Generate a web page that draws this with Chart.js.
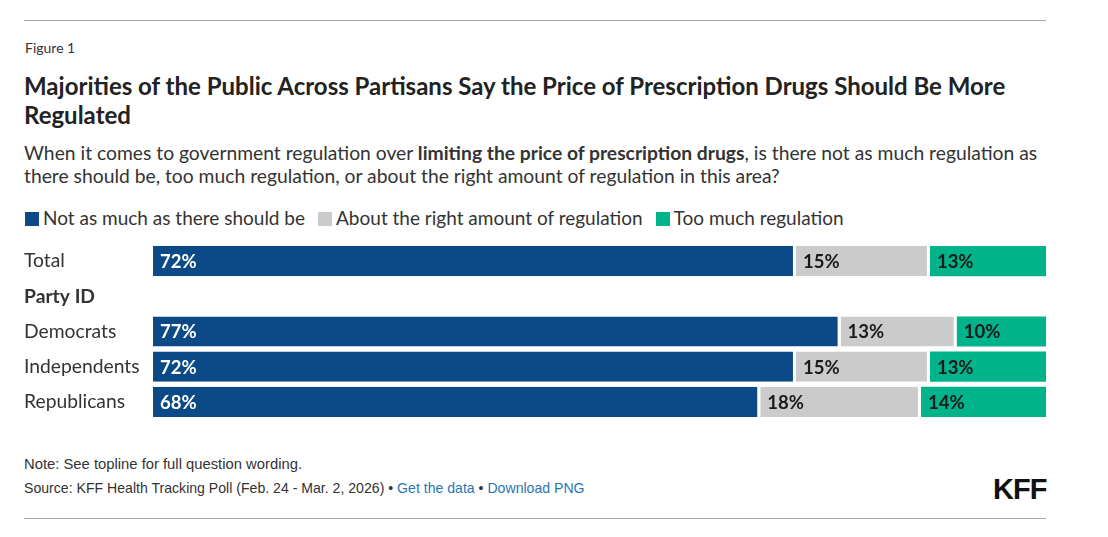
<!DOCTYPE html>
<html>
<head>
<meta charset="utf-8">
<script src="https://cdn.jsdelivr.net/npm/chart.js@4.4.1/dist/chart.umd.min.js"></script>
<style>
  body { margin: 0; background: #fff; font-family: "Lato", sans-serif; color: #333; }
  .regle { position: absolute; left: 24px; width: 1022px; height: 1px; background: #a6a6a6; }
  #figure { position: absolute; left: 25px; top: 39px; font-size: 14px; color: #333; }
  #titre { position: absolute; left: 24px; top: 71px; width: 1000px; font-size: 24px; font-weight: 700; line-height: 29px; color: #222; }
  #sous-titre { position: absolute; left: 24px; top: 141px; width: 1025px; font-size: 19.3px; line-height: 23px; color: #333; }
  #legende { position: absolute; left: 25px; top: 206px; font-size: 19px; color: #333; white-space: nowrap; }
  #legende span.item { margin-right: 13px; }
  #legende span.carre { display: inline-block; width: 14px; height: 14px; margin-right: 4px; vertical-align: -1px; }
  #zone { position: absolute; left: 24px; top: 231.5px; width: 1022px; height: 199px; }
  #note { position: absolute; left: 24px; top: 456px; font-family: "Liberation Sans Narrow", "Liberation Sans", sans-serif; font-size: 14.8px; color: #333; }
  #source { position: absolute; left: 24px; top: 480px; font-family: "Liberation Sans Narrow", "Liberation Sans", sans-serif; font-size: 14.1px; color: #333; }
  #source a { color: #2a75b3; text-decoration: none; }
  #logo { position: absolute; left: 993px; top: 473px; font-family: "Liberation Sans Narrow", sans-serif; font-size: 29px; font-weight: 700; color: #111; letter-spacing: -1px; }
</style>
</head>
<body>
<div class="regle" style="top:20px"></div>
<div id="figure">Figure 1</div>
<div id="titre">Majorities of the Public Across Partisans Say the Price of Prescription Drugs Should Be More Regulated</div>
<div id="sous-titre">When it comes to government regulation over <b>limiting the price of prescription drugs</b>, is there not as much regulation as there should be, too much regulation, or about the right amount of regulation in this area?</div>
<div id="legende"></div>
<div id="zone"><canvas id="graph"></canvas></div>
<div id="note">Note: See topline for full question wording.</div>
<div id="source">Source: KFF Health Tracking Poll (Feb. 24 - Mar. 2, 2026) • <a>Get the data</a> • <a>Download PNG</a></div>
<div id="logo">KFF</div>
<div class="regle" style="top:518px"></div>

<script>
// Donnees
const categories = ["Total", "Party ID", "Democrats", "Independents", "Republicans"];
const pasAssez = [72, null, 77, 72, 68];
const bonneQuantite = [15, null, 13, 15, 18];
const tropRegule = [13, null, 10, 13, 14];

const series = ["Not as much as there should be", "About the right amount of regulation", "Too much regulation"];
const couleurs = ["#0b4a86", "#cbcbcb", "#00b38b"];
const couleursTexte = ["#ffffff", "#1a1a1a", "#1a1a1a"];

// Legende HTML
const legende = document.getElementById("legende");
series.forEach((nom, i) => {
  const item = document.createElement("span");
  item.className = "item";
  item.innerHTML = `<span class="carre" style="background:${couleurs[i]}"></span>${nom}`;
  legende.appendChild(item);
});

// Etiquettes a l'interieur des barres
const etiquettes = {
  id: "etiquettes",
  afterDatasetsDraw(chart) {
    const ctx = chart.ctx;
    ctx.save();
    ctx.font = "700 18.5px Lato, sans-serif";
    ctx.textBaseline = "middle";
    ctx.textAlign = "left";
    chart.data.datasets.forEach((ds, i) => {
      chart.getDatasetMeta(i).data.forEach((barre, j) => {
        const v = ds.data[j];
        if (v == null) return;
        const x0 = Math.min(barre.x, barre.base);
        ctx.fillStyle = couleursTexte[i];
        ctx.fillText(v + "%", x0 + 7, barre.y + 1);
      });
    });
    ctx.restore();
  }
};

const donnees = [pasAssez, bonneQuantite, tropRegule];

new Chart(document.getElementById("graph"), {
  type: "bar",
  data: {
    labels: categories,
    datasets: series.map((nom, i) => ({
      label: nom,
      data: donnees[i],
      backgroundColor: couleurs[i],
      borderColor: "#ffffff",
      borderWidth: i < 2 ? { right: 3, left: 0, top: 0, bottom: 0 } : 0,
      borderSkipped: false,
      barPercentage: 1,
      categoryPercentage: 30 / 35
    }))
  },
  options: {
    indexAxis: "y",
    responsive: true,
    maintainAspectRatio: false,
    animation: false,
    layout: { padding: 0 },
    plugins: { legend: { display: false }, tooltip: { enabled: false } },
    scales: {
      x: { stacked: true, min: 0, max: 100, display: false },
      y: {
        stacked: true,
        grid: { display: false },
        border: { display: false },
        afterFit: (axe) => { axe.width = 129; },
        ticks: {
          crossAlign: "far",
          padding: 0,
          color: "#333",
          font: (c) => ({
            family: "Lato, sans-serif",
            size: 19.3,
            weight: c.tick && c.tick.label === "Party ID" ? "700" : "400"
          })
        }
      }
    }
  },
  plugins: [etiquettes]
});
</script>
</body>
</html>
